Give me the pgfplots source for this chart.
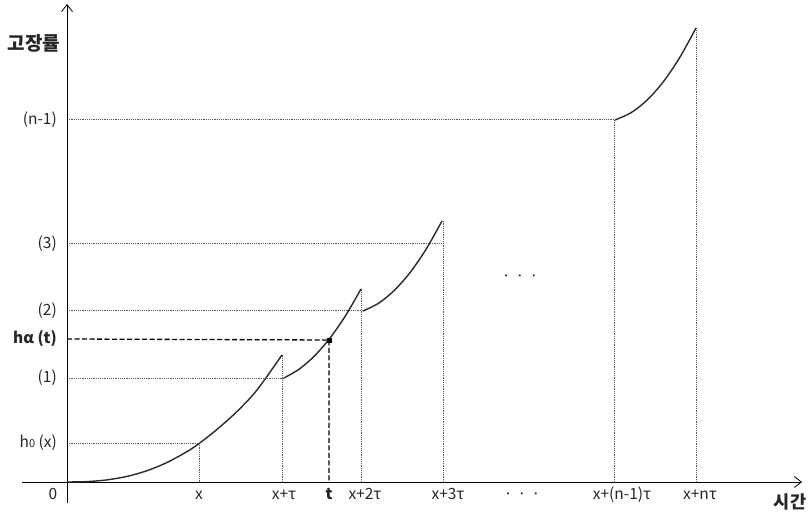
\documentclass[border=0pt]{standalone}
\usepackage{pgfplots}
\pgfplotsset{compat=1.18}
\usepackage{fontspec}
\setmainfont{Noto Sans CJK KR}
\usetikzlibrary{arrows.meta}
\definecolor{dotc}{HTML}{585858}
\definecolor{curvec}{HTML}{2A2A2A}
\tikzset{lbl/.style={font=\fontsize{15.5}{18}\selectfont, text=black!85, inner sep=0pt}}
\begin{document}
\begin{tikzpicture}
\begin{axis}[
  x=1pt, y=1pt,
  xmin=-67, xmax=743, ymin=-32, ymax=482,
  axis lines=none,
  clip=false,
]
% bounding box
\addplot[draw=none] coordinates {(-67,-32) (743,482)};
% dotted guide lines
\pgfplotsset{guide/.style={dotc, line width=1pt, dash pattern=on 1.2pt off 1pt}}
\addplot[guide] coordinates {(0,39) (132,39) (132,0)};
\addplot[guide] coordinates {(0,104) (217,104)};
\addplot[guide] coordinates {(215,0) (215,127)};
\addplot[guide] coordinates {(0,171) (296,171)};
\addplot[guide] coordinates {(294,0) (294,193)};
\addplot[guide] coordinates {(0,238) (375,238)};
\addplot[guide] coordinates {(376,0) (376,261)};
\addplot[guide] coordinates {(0,362) (548,362)};
\addplot[guide] coordinates {(547,0) (547,362)};
\addplot[guide] coordinates {(629,0) (629,454)};
% dashed h_alpha(t)
\addplot[black, line width=1.3pt, dash pattern=on 5pt off 2.5pt] coordinates {(0,143) (262,142) (262,0)};
% axes
\addplot[black, line width=0.8pt, -{Straight Barb[length=7pt,width=11pt]}] coordinates {(-45,0) (735,0)};
\addplot[black, line width=0.8pt, -{Straight Barb[length=7pt,width=11pt]}] coordinates {(0,-21) (0,478)};
% curves
\pgfplotsset{crv/.style={curvec, line width=1.4pt, smooth}}
\addplot[crv] coordinates {(0,0) (20,0.4) (40,2.1) (60,5.6) (80,11.3) (100,19.5) (120,30.4) (132,38.4) (150,52.6) (170,70.5) (190,92) (215,127)};
\addplot[crv] coordinates {(217,104) (232.4,113) (247.8,126.4) (263.2,144.2) (278.6,166.4) (294,193)};
\addplot[crv] coordinates {(296,171) (311.8,178.9) (327.6,191.9) (343.4,209.9) (359.2,232.9) (375,261)};
\addplot[crv] coordinates {(548,362) (564.2,369.4) (580.4,382.2) (596.6,400.6) (612.8,424.6) (629,454)};
% point t
\addplot[only marks, mark=square*, mark size=2pt, black] coordinates {(262,142)};
% labels left
\node[lbl, anchor=east] at (axis cs:-10,362) {(n-1)};
\node[lbl, anchor=east] at (axis cs:-10,238) {(3)};
\node[lbl, anchor=east] at (axis cs:-10,171) {(2)};
\node[lbl, anchor=east, font=\fontsize{15.5}{18}\selectfont\bfseries] at (axis cs:-10,143) {hα (t)};
\node[lbl, anchor=east] at (axis cs:-10,104) {(1)};
\node[lbl, anchor=east] at (axis cs:-10,39) {h{\fontsize{11}{11}\selectfont 0} (x)};
\node[lbl, anchor=center, font=\fontsize{19}{21}\selectfont\bfseries] at (axis cs:-33,439) {고장률};
% labels bottom
\node[lbl, anchor=base] at (axis cs:-14,-17) {0};
\node[lbl, anchor=base] at (axis cs:132,-17) {x};
\node[lbl, anchor=base] at (axis cs:217,-17) {x+τ};
\node[lbl, anchor=base, font=\fontsize{15.5}{18}\selectfont\bfseries] at (axis cs:262,-17) {t};
\node[lbl, anchor=base] at (axis cs:298,-17) {x+2τ};
\node[lbl, anchor=base] at (axis cs:381,-17) {x+3τ};
\node[lbl, anchor=base] at (axis cs:455,-17) {·\,\,·\,\,·};
\node[lbl, anchor=base] at (axis cs:555,-17) {x+(n-1)τ};
\node[lbl, anchor=base] at (axis cs:633,-17) {x+nτ};
\node[lbl, anchor=center, font=\fontsize{17.5}{20}\selectfont\bfseries] at (axis cs:723,-20) {시간};
\node[lbl, anchor=base] at (axis cs:453,200) {·\,\,·\,\,·};
\end{axis}
\end{tikzpicture}
\end{document}
